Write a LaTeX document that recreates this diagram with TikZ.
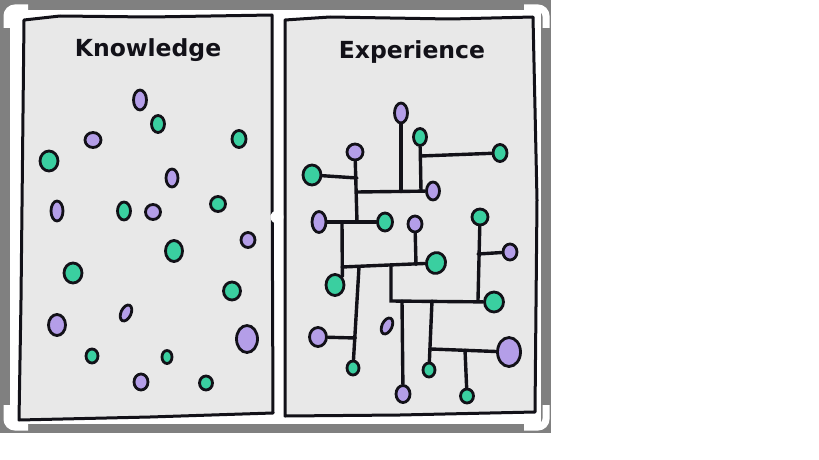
\documentclass[tikz,border=0pt]{standalone}
\usepackage{fontspec}
\newfontfamily\headfont{DejaVu Sans}
\usetikzlibrary{shapes.geometric}
\definecolor{frame}{HTML}{808080}
\definecolor{paper}{HTML}{E8E8E8}
\definecolor{ink}{HTML}{121118}
\definecolor{lav}{HTML}{B49EE8}
\definecolor{mint}{HTML}{3ACFA0}
\tikzset{
  pd/.style 2 args={ellipse,draw=ink,fill=lav,line width=2.8pt,inner sep=0pt,minimum width=#1+1,minimum height=#2+1},
  td/.style 2 args={ellipse,draw=ink,fill=mint,line width=2.8pt,inner sep=0pt,minimum width=#1+1,minimum height=#2+1},
  wire/.style={draw=ink,line width=3.4pt,line cap=round},
  pane/.style={draw=ink,fill=paper,line width=3pt,line join=round},
  ttl/.style={font=\headfont\bfseries\fontsize{23.5}{27}\selectfont,text=ink},
  handle/.style={draw=white,line width=7pt,rounded corners=8pt},
}
\begin{document}
\begin{tikzpicture}[x=1pt,y=-1pt]
  \useasboundingbox (0,0) rectangle (819,460);
  \fill[white] (0,0) rectangle (819,460);
  \fill[frame] (0,0) rectangle (551,433);
  \fill[white] (10,10) rectangle (541,424);
  % corner handles
  \draw[handle] (7,28) -- (7,8) -- (28,8);
  \draw[handle] (524,8) -- (546,8) -- (546,28);
  \draw[handle] (7,405) -- (7,427) -- (28,427);
  \draw[handle] (524,427) -- (546,427) -- (546,405);

  % the two panels
  \draw[pane] (24,20) -- (60,16) -- (150,17) -- (272,15) -- (272,150) -- (273,413)
    -- (150,417) -- (19,420) -- (21,300) -- cycle;
  \draw[pane] (285,20) -- (330,17) -- (450,19) -- (533,17) -- (537,200) -- (535,412)
    -- (400,415) -- (285,416) -- (285,200) -- cycle;
  \fill[white] (277,217) circle (6.5);

  \node[ttl] (know) at (148,50) {Knowledge};
  \node[ttl] (exp) at (412,52) {Experience};

  % knowledge: loose dots
  \node[pd={12}{19}] (k1) at (140,100) {};
  \node[td={12}{16}] (k2) at (158,124) {};
  \node[pd={15}{14}] (k3) at (93,140) {};
  \node[td={13}{16}] (k4) at (239,139) {};
  \node[td={17}{19}] (k5) at (49,161) {};
  \node[pd={11}{17}] (k6) at (172,178) {};
  \node[pd={11}{19}] (k7) at (57,211) {};
  \node[td={12}{17}] (k8) at (124,211) {};
  \node[pd={14}{14}] (k9) at (153,212) {};
  \node[td={14}{14}] (k10) at (218,204) {};
  \node[pd={13}{14}] (k11) at (248,240) {};
  \node[td={16}{20}] (k12) at (174,251) {};
  \node[td={17}{19}] (k13) at (73,273) {};
  \node[td={16}{17}] (k14) at (232,291) {};
  \node[pd={9}{16},rotate=-25] (k15) at (126,313) {};
  \node[pd={16}{20}] (k16) at (57,325) {};
  \node[pd={20}{26}] (k17) at (247,339) {};
  \node[td={11}{13}] (k18) at (92,356) {};
  \node[td={9}{12}] (k19) at (167,357) {};
  \node[pd={13}{15}] (k20) at (141,382) {};
  \node[td={12}{13}] (k21) at (206,383) {};

  % experience: connected dots
  \node[pd={12}{19}] (e1) at (401,113) {};
  \node[td={12}{16}] (e2) at (420,137) {};
  \node[pd={12}{17}] (e3) at (433,191) {};
  \node[td={13}{16}] (e4) at (500,153) {};
  \node[pd={15}{15}] (e5) at (355,152) {};
  \node[td={17}{19}] (e6) at (312,175) {};
  \node[pd={13}{20}] (e7) at (319,222) {};
  \node[td={14}{17}] (e8) at (385,222) {};
  \node[td={17}{20}] (e9) at (335,285) {};
  \node[td={18}{20},rotate=-15] (e10) at (436,263) {};
  \node[pd={13}{15}] (e11) at (415,224) {};
  \node[td={11}{13}] (e12) at (353,368) {};
  \node[pd={16}{18}] (e13) at (318,337) {};
  \node[td={18}{19}] (e14) at (494,302) {};
  \node[pd={13}{16}] (e15) at (403,394) {};
  \node[td={11}{13}] (e16) at (429,370) {};
  \node[pd={22}{28}] (e17) at (509,352) {};
  \node[td={12}{13}] (e18) at (467,396) {};
  \node[td={15}{15}] (e19) at (480,217) {};
  \node[pd={13}{15}] (e20) at (510,252) {};
  \node[pd={9}{16},rotate=-25] (e21) at (387,326) {};

  \coordinate (a0) at (357,192);
  \coordinate (a1) at (401,191.5);
  \coordinate (a2) at (421,191);
  \coordinate (a3) at (421,156);
  \coordinate (b1) at (357,222);
  \coordinate (b2) at (357,178);
  \coordinate (d0) at (342,222);
  \coordinate (d1) at (342,267);
  \coordinate (f1) at (416,264.5);
  \coordinate (g0) at (359,267);
  \coordinate (g1) at (355.5,338);
  \coordinate (h0) at (391,266);
  \coordinate (h1) at (391,301);
  \coordinate (i0) at (402,301);
  \coordinate (i1) at (432,301);
  \coordinate (i2) at (431,349);
  \coordinate (i3) at (465,350);
  \coordinate (j0) at (478,300);
  \coordinate (j1) at (478,254);

  \draw[wire] (a0) -- (e3);
  \draw[wire] (e1) -- (a1);
  \draw[wire] (e2) -- (a2);
  \draw[wire] (a3) -- (e4);
  \draw[wire] (e5) -- (b1);
  \draw[wire] (e6) -- (b2);
  \draw[wire] (e7) -- (e8);
  \draw[wire] (d0) -- (e9.north east);
  \draw[wire] (d1) -- (e10);
  \draw[wire] (e11) -- (f1);
  \draw[wire] (g0) -- (e12);
  \draw[wire] (e13) -- (g1);
  \draw[wire] (h0) -- (h1) -- (e14);
  \draw[wire] (i0) -- (e15);
  \draw[wire] (i1) -- (e16);
  \draw[wire] (i2) -- (e17);
  \draw[wire] (i3) -- (e18);
  \draw[wire] (e19) -- (j0);
  \draw[wire] (j1) -- (e20);
\end{tikzpicture}
\end{document}
